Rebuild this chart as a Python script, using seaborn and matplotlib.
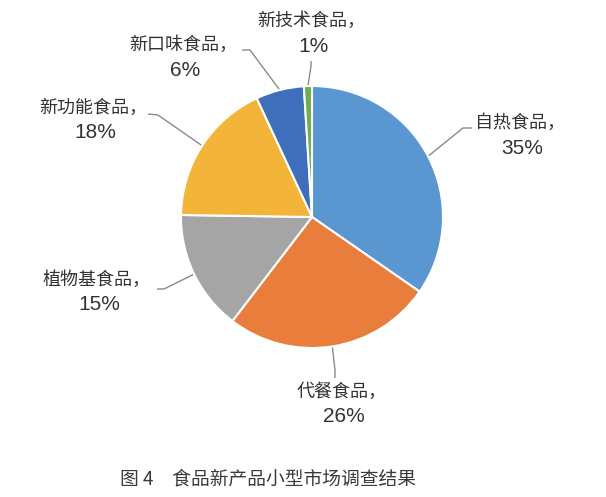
import numpy as np
import matplotlib
matplotlib.use("Agg")
import matplotlib.pyplot as plt
import seaborn as sns

categories = ["自热食品", "代餐食品", "植物基食品", "新功能食品", "新口味食品", "新技术食品"]
values = [35, 26, 15, 18, 6, 1]
colors = ["#5A96D0", "#E97D3C", "#A5A5A5", "#F3B43A", "#3F6EBB", "#6FAE4C"]
title = "图 4　食品新产品小型市场调查结果"

sns.set_theme(style="white")
plt.rcParams['font.family'] = ['Noto Sans CJK SC', 'DejaVu Sans']

W, H = 606, 497
fig = plt.figure(figsize=(W / 100, H / 100), dpi=100)
ax = fig.add_axes([0, 0, 1, 1])

cx, cy, R = 312, H - 217, 131
wedges, _ = ax.pie(values, colors=colors, startangle=90, counterclock=False,
                   center=(cx, cy), radius=R,
                   wedgeprops=dict(edgecolor="white", linewidth=1.5))
ax.set_xlim(0, W)
ax.set_ylim(0, H)
ax.set_aspect("equal")
ax.axis("off")

# label layout (pixel coords, y from top): text center, leader start, elbow
layout = {
    "自热食品": ((520, 135), (472, 128), (463, 128)),
    "代餐食品": ((342, 404), (335, 378), (335, 370)),
    "植物基食品": ((97, 292), (157, 289), (164, 289)),
    "新功能食品": ((93, 120), (148, 114), (158, 115)),
    "新口味食品": ((183, 57), (242, 50), (250, 50)),
    "新技术食品": ((311, 33), (311, 61), (311, 66)),
}

txt_color = "#333333"
line_color = "#8a8a8a"
for w, cat, v in zip(wedges, categories, values):
    mid = np.deg2rad((w.theta1 + w.theta2) / 2)
    ex, ey = cx + R * np.cos(mid), cy + R * np.sin(mid)
    (tx, ty), (sx, sy), (bx, by) = layout[cat]
    ax.plot([sx, bx, ex], [H - sy, H - by, ey], color=line_color, lw=1.0,
            solid_capstyle="butt", zorder=0.5)
    ax.text(tx, H - (ty - 12), f"{cat}，", ha="center", va="center",
            fontsize=13, color=txt_color)
    ax.text(tx + 2, H - (ty + 13), f"{v}%", ha="center", va="center",
            fontsize=15, color=txt_color, family=['Liberation Sans', 'DejaVu Sans'])

ax.text(268, H - 479, title, ha="center", va="center", fontsize=13.5,
        color="#3a3a3a", fontweight="light")

fig.savefig("out.png", dpi=100, facecolor="white")
